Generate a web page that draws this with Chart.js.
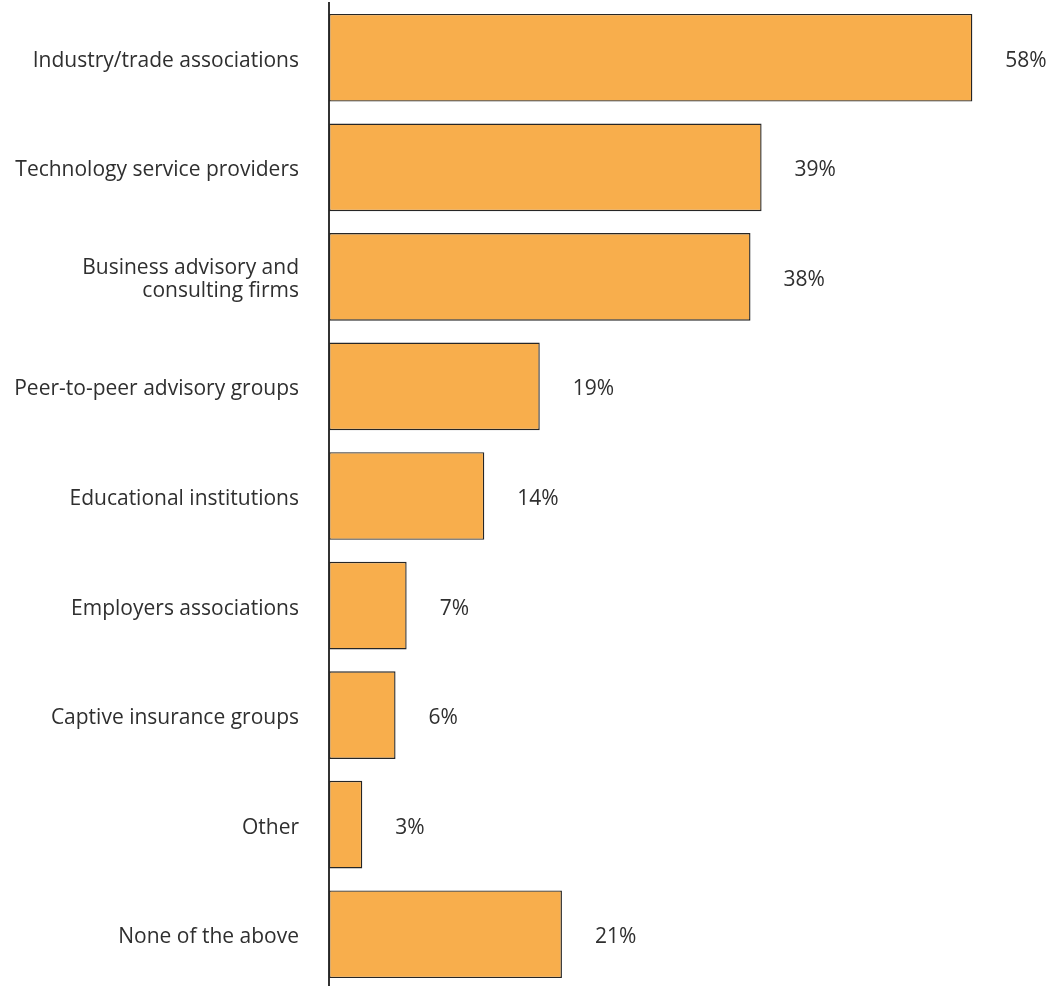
<!DOCTYPE html>
<html lang="en">
<head>
    <meta charset="UTF-8">
    <title>Sources of support</title>
    <script src="https://cdn.jsdelivr.net/npm/chart.js"></script>
    <style>
        body { background: #fff; margin: 0; padding: 0; overflow: hidden; }
        #wrap { width: 1060px; height: 992px; }
    </style>
</head>
<body>
<div id="wrap">
    <canvas id="barChart"></canvas>
</div>
<script>
const categories = [
    'Industry/trade associations',
    'Technology service providers',
    ['Business advisory and', 'consulting firms'],
    'Peer-to-peer advisory groups',
    'Educational institutions',
    'Employers associations',
    'Captive insurance groups',
    'Other',
    'None of the above'
];
const shares = [58, 39, 38, 19, 14, 7, 6, 3, 21];

const TEXT = '#2f2f2f';
const FONT = '"Open Sans", Lato, sans-serif';

// percentage labels to the right of each bar
const valueLabels = {
    id: 'valueLabels',
    afterDatasetsDraw(chart) {
        const ctx = chart.ctx;
        const meta = chart.getDatasetMeta(0);
        ctx.save();
        ctx.font = '21px ' + FONT;
        ctx.fillStyle = TEXT;
        ctx.textAlign = 'left';
        ctx.textBaseline = 'middle';
        meta.data.forEach((bar, i) => {
            ctx.fillText(shares[i] + '%', bar.x + 33, bar.y + 3);
        });
        ctx.restore();
    }
};

new Chart(document.getElementById('barChart').getContext('2d'), {
    type: 'bar',
    data: {
        labels: categories,
        datasets: [{
            data: shares,
            backgroundColor: '#f8ae4c',
            borderColor: '#262626',
            borderWidth: 1.4,
            borderSkipped: false,
            categoryPercentage: 1,
            barPercentage: 0.8
        }]
    },
    options: {
        indexAxis: 'y',
        responsive: true,
        maintainAspectRatio: false,
        animation: false,
        layout: { padding: { top: 3, right: 10, bottom: 3, left: 0 } },
        plugins: {
            legend: { display: false },
            tooltip: { enabled: false }
        },
        scales: {
            x: { display: false, min: 0, max: 65 },
            y: {
                grid: { display: false, drawTicks: false },
                border: { display: true, color: '#333333', width: 2 },
                ticks: {
                    color: TEXT,
                    padding: 30,
                    labelOffset: 3,
                    font: { family: FONT, size: 21, lineHeight: 1.1 }
                },
                afterFit(scale) {
                    scale.width = 329;
                    scale.paddingTop = 0;
                    scale.paddingBottom = 0;
                }
            }
        }
    },
    plugins: [valueLabels]
});
</script>
</body>
</html>
